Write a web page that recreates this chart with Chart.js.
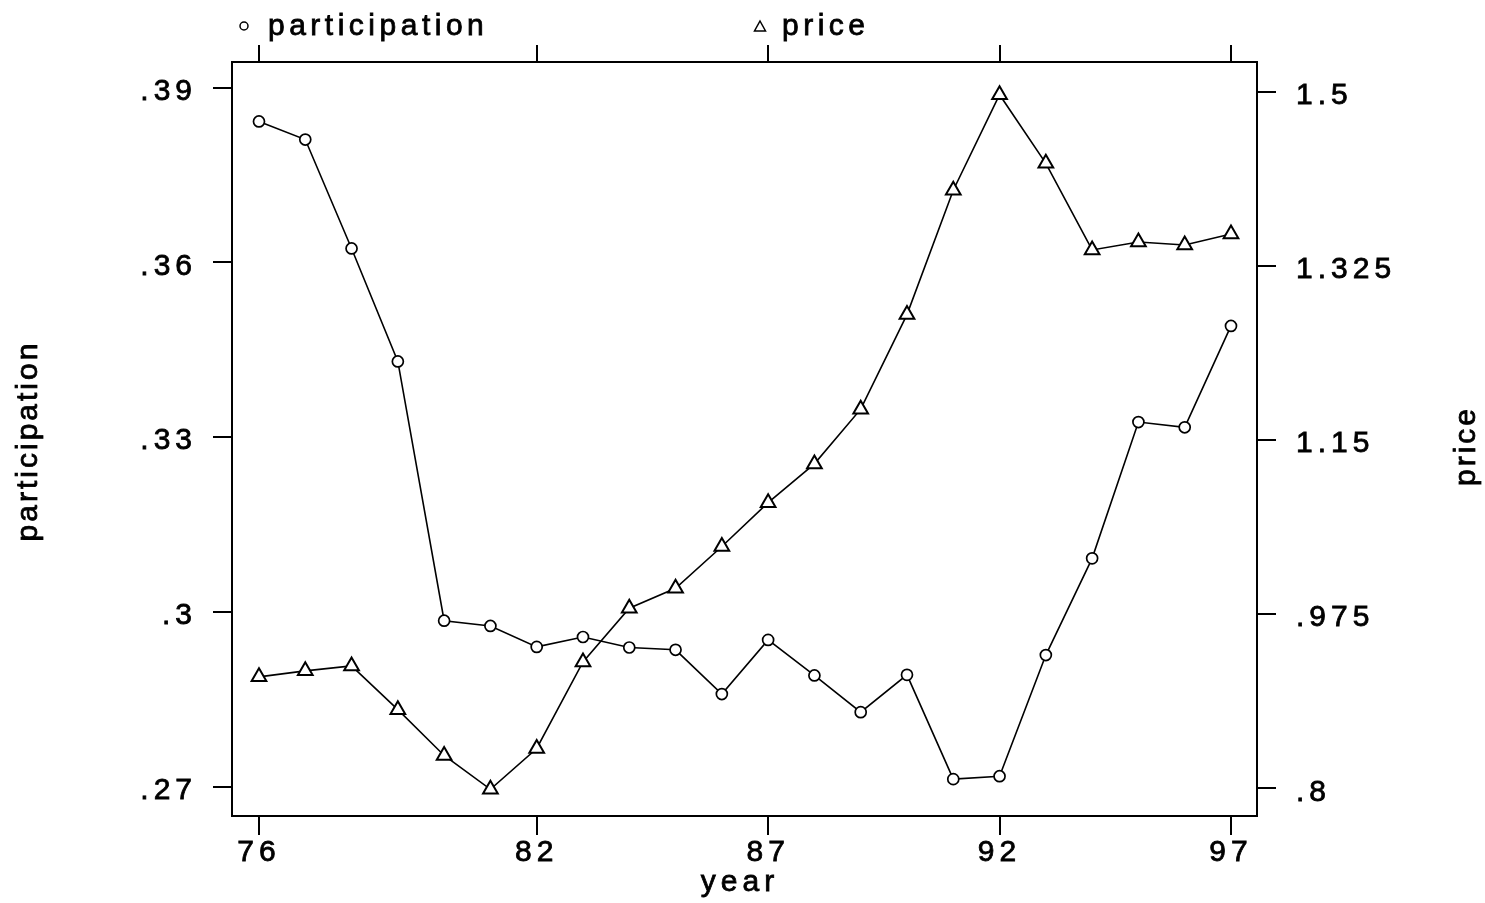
<!DOCTYPE html>
<html>
<head>
<meta charset="utf-8">
<script src="https://cdn.jsdelivr.net/npm/chart.js@4.4.1/dist/chart.umd.min.js"></script>
<style>
  html, body { margin: 0; padding: 0; background: #fff; }
  canvas { display: block; }
</style>
</head>
<body>
<canvas id="chart" width="1485" height="903"></canvas>
<script>
const years = [76, 77, 78, 79, 80, 81, 82, 83, 84, 85, 86, 87, 88, 89, 90, 91, 92, 93, 94, 95, 96, 97];
const participation = [0.3842, 0.3811, 0.3624, 0.3430, 0.2985, 0.2976, 0.2940, 0.2957, 0.2939, 0.2935, 0.2859,
                       0.2952, 0.2891, 0.2828, 0.2892, 0.2713, 0.2718, 0.2926, 0.3092, 0.3326, 0.3317, 0.3491];
const price = [0.912, 0.918, 0.923, 0.879, 0.833, 0.799, 0.840, 0.927, 0.981, 1.001, 1.043,
               1.087, 1.126, 1.181, 1.276, 1.401, 1.497, 1.428, 1.341, 1.349, 1.346, 1.357];

const yearTicks = [76, 82, 87, 92, 97];
const participationTicks = [0.27, 0.30, 0.33, 0.36, 0.39];
const participationLabels = ['.27', '.3', '.33', '.36', '.39'];
const priceTicks = [0.8, 0.975, 1.15, 1.325, 1.5];
const priceLabels = ['.8', '.975', '1.15', '1.325', '1.5'];

const FONT = "'Liberation Sans', Arial, sans-serif";
Chart.defaults.font.family = FONT;
Chart.defaults.font.size = 30;
Chart.defaults.color = '#000';

function points(ys) {
    return years.map((yr, i) => ({ x: yr, y: ys[i] }));
}

function axisLook(extra) {
    return Object.assign({
        border: { display: true, color: '#000', width: 2 },
        grid: { drawOnChartArea: false, color: '#000', lineWidth: 2, tickLength: 19 }
    }, extra);
}

// text drawn a bit heavier, like the scanned original
function heavyText(ctx, txt, x, y) {
    ctx.strokeText(txt, x, y);
    ctx.fillText(txt, x, y);
}

// legend, axis titles and the letter spacing of the Stata look
const stataText = {
    id: 'stataText',
    beforeDraw(chart) {
        chart.ctx.letterSpacing = '5px';
    },
    afterDraw(chart) {
        const ctx = chart.ctx;
        ctx.save();
        ctx.fillStyle = '#000';
        ctx.strokeStyle = '#000';
        ctx.font = '30px ' + FONT;
        ctx.textAlign = 'left';
        ctx.textBaseline = 'alphabetic';

        // legend
        ctx.lineWidth = 1.5;
        ctx.beginPath();
        ctx.arc(244, 26, 4, 0, Math.PI * 2);
        ctx.stroke();
        ctx.beginPath();
        ctx.moveTo(760, 21);
        ctx.lineTo(765.5, 31);
        ctx.lineTo(754.5, 31);
        ctx.closePath();
        ctx.stroke();

        ctx.lineWidth = 0.8;
        ctx.letterSpacing = '4.5px';
        heavyText(ctx, 'participation', 268, 35);
        heavyText(ctx, 'price', 782, 35);

        // x title
        ctx.letterSpacing = '5px';
        ctx.textAlign = 'center';
        ctx.textBaseline = 'middle';
        heavyText(ctx, 'year', 740, 883);

        // y titles
        ctx.letterSpacing = '3px';
        ctx.save();
        ctx.translate(29, 441);
        ctx.rotate(-Math.PI / 2);
        heavyText(ctx, 'participation', 0, 0);
        ctx.restore();

        ctx.save();
        ctx.translate(1467, 446);
        ctx.rotate(-Math.PI / 2);
        heavyText(ctx, 'price', 0, 0);
        ctx.restore();

        ctx.restore();
    }
};

const tickText = { textStrokeColor: '#000', textStrokeWidth: 0.8, autoSkip: false };

new Chart(document.getElementById('chart'), {
    type: 'line',
    data: {
        datasets: [{
            label: 'participation',
            data: points(participation),
            xAxisID: 'x',
            yAxisID: 'y',
            borderColor: '#000',
            borderWidth: 1.6,
            pointStyle: 'circle',
            pointRadius: 5.5,
            pointBorderWidth: 1.7,
            pointBorderColor: '#000',
            pointBackgroundColor: '#fff',
            tension: 0
        }, {
            label: 'price',
            data: points(price),
            xAxisID: 'x',
            yAxisID: 'y2',
            borderColor: '#000',
            borderWidth: 1.6,
            pointStyle: 'triangle',
            pointRadius: 8.5,
            pointBorderWidth: 2,
            pointBorderColor: '#000',
            pointBackgroundColor: '#fff',
            tension: 0
        }]
    },
    options: {
        responsive: false,
        animation: false,
        layout: { padding: 0 },
        plugins: {
            legend: { display: false },
            tooltip: { enabled: false }
        },
        scales: {
            x: axisLook({
                type: 'linear',
                position: 'bottom',
                min: 75.417,
                max: 97.562,
                afterBuildTicks: s => { s.ticks = yearTicks.map(v => ({ value: v })); },
                afterFit: s => { s.height = 87; },
                ticks: Object.assign({ maxRotation: 0, padding: 0, callback: v => String(v) }, tickText)
            }),
            x2: axisLook({
                type: 'linear',
                position: 'top',
                min: 75.417,
                max: 97.562,
                afterBuildTicks: s => { s.ticks = yearTicks.map(v => ({ value: v })); },
                afterFit: s => { s.height = 62; },
                grid: { drawOnChartArea: false, color: '#000', lineWidth: 2, tickLength: 17 },
                ticks: { display: false }
            }),
            y: axisLook({
                type: 'linear',
                position: 'left',
                min: 0.26497,
                max: 0.39441,
                afterBuildTicks: s => { s.ticks = participationTicks.map(v => ({ value: v })); },
                afterFit: s => { s.width = 232; },
                ticks: Object.assign({ padding: 16, labelOffset: 4, callback: (v, i) => participationLabels[i] }, tickText)
            }),
            y2: axisLook({
                type: 'linear',
                position: 'right',
                min: 0.77216,
                max: 1.52985,
                afterBuildTicks: s => { s.ticks = priceTicks.map(v => ({ value: v })); },
                afterFit: s => { s.width = 228; },
                ticks: Object.assign({ padding: 20, labelOffset: 4, callback: (v, i) => priceLabels[i] }, tickText)
            })
        }
    },
    plugins: [stataText]
});
</script>
</body>
</html>
